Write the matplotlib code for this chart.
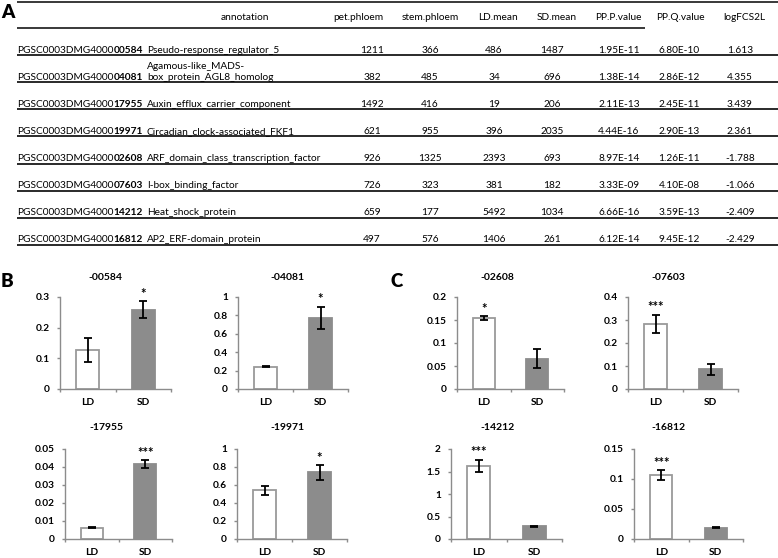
import matplotlib
matplotlib.use("Agg")
import matplotlib.pyplot as plt
import numpy as np

plt.rcParams['font.family'] = ['Lato', 'DejaVu Sans']

# ---------------- Table data (panel A) ----------------
id_prefix = "PGSC0003DMG4000"
id_suffix = ["00584", "04081", "17955", "19971", "02608", "07603", "14212", "16812"]
annotations = [
    "Pseudo-response_regulator_5",
    "Agamous-like_MADS-\nbox_protein_AGL8_homolog",
    "Auxin_efflux_carrier_component",
    "Circadian_clock-associated_FKF1",
    "ARF_domain_class_transcription_factor",
    "I-box_binding_factor",
    "Heat_shock_protein",
    "AP2_ERF-domain_protein",
]
pet_phloem = [1211, 382, 1492, 621, 926, 726, 659, 497]
stem_phloem = [366, 485, 416, 955, 1325, 323, 177, 576]
ld_mean_tab = [486, 34, 19, 396, 2393, 381, 5492, 1406]
sd_mean_tab = [1487, 696, 206, 2035, 693, 182, 1034, 261]
pp_p_value = ["1.95E-11", "1.38E-14", "2.11E-13", "4.44E-16", "8.97E-14", "3.33E-09", "6.66E-16", "6.12E-14"]
pp_q_value = ["6.80E-10", "2.86E-12", "2.45E-11", "2.90E-13", "1.26E-11", "4.10E-08", "3.59E-13", "9.45E-12"]
log_fc = ["1.613", "4.355", "3.439", "2.361", "-1.788", "-1.066", "-2.409", "-2.429"]
table_headers = ["annotation", "pet.phloem", "stem.phloem", "LD.mean", "SD.mean",
                 "PP.P.value", "PP.Q.value", "logFCS2L"]

# ---------------- Bar data (panels B, C) ----------------
panel_titles = ["-00584", "-04081", "-17955", "-19971", "-02608", "-07603", "-14212", "-16812"]
conditions = ["LD", "SD"]
mean_ld = [0.126, 0.243, 0.0062, 0.54, 0.154, 0.282, 1.63, 0.107]
mean_sd = [0.259, 0.77, 0.0417, 0.74, 0.066, 0.085, 0.28, 0.019]
err_ld = [0.039, 0.008, 0.0003, 0.05, 0.0045, 0.04, 0.13, 0.008]
err_sd = [0.027, 0.123, 0.0022, 0.08, 0.021, 0.024, 0.008, 0.0008]
stars_ld = ["", "", "", "", "*", "***", "***", "***"]
stars_sd = ["*", "*", "***", "*", "", "", "", ""]
y_max = [0.3, 1, 0.05, 1, 0.2, 0.4, 2, 0.15]
y_step = [0.1, 0.2, 0.01, 0.2, 0.05, 0.1, 0.5, 0.05]

# ---------------- Layout ----------------
W, H = 778, 558
fig = plt.figure(figsize=(W / 100, H / 100), dpi=100)
tab = fig.add_axes([0, 0, 1, 1])
tab.set_xlim(0, W)
tab.set_ylim(H, 0)
tab.axis('off')

line_color = '#2a2a2a'
tfs = 7.3
x_left = 17
x_annot = 147
header_x = [245, 358, 430, 498, 557, 618, 680, 744]
num_x = [372, 430, 494, 552, 619, 679, 740]
top_y = 2
header_line_y = 28
row_h = 27.1

tab.plot([x_left, W], [top_y, top_y], color=line_color, lw=1.3, solid_capstyle='butt')
tab.plot([x_left, 645], [header_line_y, header_line_y], color=line_color, lw=1.3, solid_capstyle='butt')
for hx, h in zip(header_x, table_headers):
    tab.text(hx, header_line_y - 8, h, ha='center', va='baseline', fontsize=tfs)

for i in range(len(id_suffix)):
    ly = header_line_y + row_h * (i + 1)
    base = ly - 2.5
    tab.plot([x_left, W], [ly, ly], color=line_color, lw=1.4, solid_capstyle='butt')
    t = tab.text(x_left, base, id_prefix, ha='left', va='baseline', fontsize=tfs)
    tab.annotate(id_suffix[i], xy=(1, 0), xycoords=t, ha='left', va='bottom',
                 fontsize=tfs, fontweight='bold')
    lines = annotations[i].split('\n')
    for k, ln in enumerate(reversed(lines)):
        tab.text(x_annot, base - 11 * k, ln, ha='left', va='baseline', fontsize=tfs)
    vals = [pet_phloem[i], stem_phloem[i], ld_mean_tab[i], sd_mean_tab[i],
            pp_p_value[i], pp_q_value[i], log_fc[i]]
    for nx, v in zip(num_x, vals):
        tab.text(nx, base, str(v), ha='center', va='baseline', fontsize=tfs)

# panel letters
tab.text(1, 18, "A", fontsize=13.5, fontweight='heavy', ha='left', va='baseline')
tab.text(1, 287, "B", fontsize=13.5, fontweight='heavy', ha='left', va='baseline')
tab.text(391, 287, "C", fontsize=13.5, fontweight='heavy', ha='left', va='baseline')

# bar panel rectangles in pixels (x0, y0, x1, y1), same order as data
panel_px = [(60, 297, 171, 389), (238, 297, 348, 389), (65, 449, 172, 539), (237, 449, 347, 539),
            (457, 297, 564, 389), (628, 297, 738, 389), (451, 449, 562, 539), (634, 449, 743, 539)]
title_x = [105, 287, 106, 287, 497, 668, 498, 668]

axis_color = '#8c8c8c'
sd_color = '#8c8c8c'

def fmt(v):
    return f"{round(v, 6):g}"

for i in range(len(panel_titles)):
    x0, y0, x1, y1 = panel_px[i]
    ax = fig.add_axes([x0 / W, 1 - y1 / H, (x1 - x0) / W, (y1 - y0) / H])
    xs = np.arange(len(conditions))
    means = [mean_ld[i], mean_sd[i]]
    errs = [err_ld[i], err_sd[i]]
    ax.bar(xs, means, width=0.41, color=['white', sd_color],
           edgecolor=['#9a9a9a', sd_color], linewidth=1.3, zorder=2)
    ax.errorbar(xs, means, yerr=errs, fmt='none', ecolor='black', elinewidth=1.3,
                capsize=2.6, capthick=1.3, zorder=3)
    for xi, m, e, s in zip(xs, means, errs, [stars_ld[i], stars_sd[i]]):
        if s:
            ax.annotate(s, xy=(xi, m + e), xytext=(0, 2.5), textcoords='offset points',
                        ha='center', va='baseline', fontsize=9.5, fontweight='bold')
    ax.set_xlim(-0.5, 1.5)
    ax.set_ylim(0, y_max[i])
    ticks = np.arange(0, y_max[i] + y_step[i] / 2, y_step[i])
    ax.set_yticks(ticks)
    ax.set_yticklabels([fmt(v) for v in ticks], fontweight='bold')
    ax.set_xticks(xs)
    ax.set_xticklabels(conditions, fontweight='bold')
    ax.set_xticks([-0.5, 0.5, 1.5], minor=True)
    for sp in ['top', 'right']:
        ax.spines[sp].set_visible(False)
    for sp in ['left', 'bottom']:
        ax.spines[sp].set_color(axis_color)
        ax.spines[sp].set_linewidth(1.0)
    ax.tick_params(axis='y', direction='out', length=2.2, width=1.0, color=axis_color,
                   labelsize=7.3, pad=5)
    ax.tick_params(axis='x', which='major', length=0, labelsize=7.3, pad=6.5)
    ax.tick_params(axis='x', which='minor', direction='out', length=2.2, width=1.0, color=axis_color)
    row_title_y = 277 if y0 < 400 else 428
    fig.text(title_x[i] / W, 1 - row_title_y / H, panel_titles[i], ha='center', va='center',
             fontsize=7.5, fontweight='bold')

fig.savefig("out.png", dpi=100)
